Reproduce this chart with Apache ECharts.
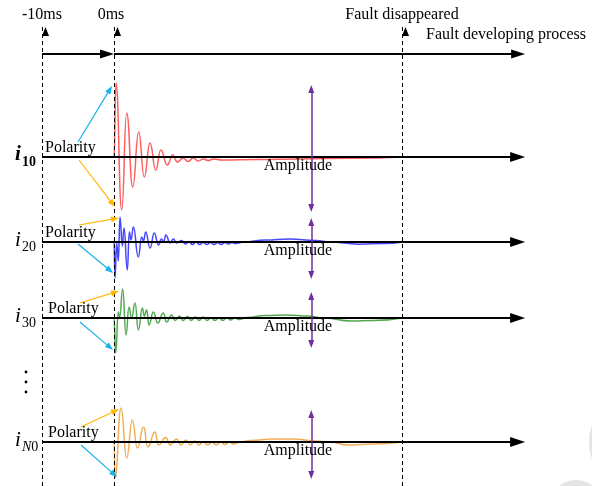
<!DOCTYPE html>
<html>
<head>
<meta charset="utf-8">
<script src="https://cdn.jsdelivr.net/npm/echarts/dist/echarts.min.js"></script>
<style>
  html, body { margin: 0; padding: 0; background: #fff; }
  #chart { width: 592px; height: 486px; }
</style>
</head>
<body>
<div id="chart"></div>
<script>
// time marks on top (ms)
var markTimes = [-10, 0, 40];
var markLabels = ['-10ms', '0ms', 'Fault disappeared'];
var axisStart = -10;
var axisEnd = 57.1;
var ampTime = 27.4;

// waveforms: [ms, amplitude]
var i10 = [[-9.5,0],[0,0],[0.28,7.4],[1.07,-5.3],[1.76,4.4],[2.6,-3.0],[3.43,2.5],[4.2,-2.0],[5.0,1.4],[5.8,-1.3],[6.5,0.7],[7.4,-0.8],[8.15,0.2],[8.8,-0.5],[9.6,-0.1],[10.3,-0.45],[11.0,-0.1],[11.7,-0.4],[12.4,-0.2],[13.1,-0.35],[13.8,-0.2],[15,-0.3],[20,-0.25],[26,-0.2],[33,-0.12],[40,0]];
var i20 = [[-9.5,0],[0,0],[0.14,-3.6],[0.37,-0.1],[0.6,-1.9],[0.83,2.5],[1.16,-0.4],[1.39,1.4],[1.85,-2.8],[2.13,1.0],[2.36,0.2],[2.69,1.5],[3.38,-1.5],[3.84,0.5],[4.1,0.1],[4.4,1.0],[5.0,-0.6],[5.6,0.9],[6.16,-0.3],[6.6,0.3],[6.9,0.0],[7.2,0.7],[7.8,-0.1],[8.24,0.3],[8.7,-0.1],[9.4,0.15],[9.9,-0.2],[10.4,0.05],[10.9,-0.25],[11.4,0],[11.9,-0.25],[12.4,-0.05],[12.9,-0.25],[13.4,-0.05],[13.9,-0.25],[14.4,-0.05],[14.9,-0.25],[15.4,-0.05],[15.9,-0.2],[16.4,-0.05],[16.9,-0.15],[18,0],[21,0.2],[24.4,0.3],[28,0.15],[30,0],[34,-0.22],[37.5,-0.15],[40,0]];
var i30 = [[-9.5,0],[0,0],[0.23,-3.5],[0.6,0.6],[0.8,0.1],[1.2,2.9],[1.67,-1.7],[2.08,1.1],[2.45,0],[2.92,1.5],[3.38,-1.2],[3.94,1.0],[4.2,0.2],[4.54,0.8],[4.86,-0.7],[5.46,0.6],[6.06,-0.5],[6.85,0.5],[7.3,-0.4],[8.0,0.3],[8.47,-0.25],[9.1,0.2],[9.6,-0.25],[10.2,0.15],[10.7,-0.25],[11.3,0.1],[11.8,-0.25],[12.4,0.1],[12.9,-0.25],[13.5,0.05],[14.0,-0.25],[14.6,0.05],[15.1,-0.25],[15.7,0.05],[16.2,-0.2],[16.8,0.05],[17.3,-0.15],[18.5,0.05],[21,0.25],[24,0.3],[27,0.2],[29,0],[33,-0.3],[36,-0.25],[40,0]];
var iN0 = [[-9.5,0],[0,0],[0.14,-3.6],[0.97,3.4],[1.76,-1.6],[2.55,2.2],[3.24,-0.6],[4.12,1.5],[4.68,-0.5],[5.7,1.0],[6.16,-0.3],[7.2,0.45],[7.8,-0.3],[8.7,0.3],[9.3,-0.3],[10.0,0.2],[10.6,-0.3],[11.2,0.1],[11.8,-0.3],[12.4,0.05],[13.0,-0.3],[13.6,0],[14.2,-0.3],[14.8,0],[15.4,-0.25],[16.0,0],[16.6,-0.2],[17.5,0],[19,0.15],[22,0.3],[25,0.3],[28,0.1],[30,0],[32.5,-0.3],[36,-0.2],[40,0]];

var waves = [i10, i20, i30, iN0];
var waveNames = ['10', '20', '30', 'N0'];
var waveColors = ['#ff4d4d', '#3333ff', '#3f9f3f', '#eea545'];

// polarity arrows (from, tip) and amplitude spans per channel
var polUp = [[[-5.0,1.5],[-0.28,7.1]], [[-4.86,1.7],[0.69,2.4]], [[-4.72,1.5],[0.69,2.7]], [[-4.58,1.5],[0.69,3.3]]];
var polDown = [[[-4.86,-0.3],[0.14,-5.0]], [[-5.0,-0.2],[-0.14,-3.1]], [[-4.72,-0.4],[-0.14,-3.2]], [[-4.58,-0.3],[0.42,-3.5]]];
var polUpColor = ['#1ab0ec', '#ffb800', '#ffb800', '#ffb800'];
var polDownColor = ['#ffb800', '#1ab0ec', '#1ab0ec', '#1ab0ec'];
var ampTop = [7.2, 2.4, 2.6, 3.2];
var ampBottom = [-5.5, -3.7, -3.0, -3.7];

// layout
var W = 592, X0 = 114, PX_MS = 7.2, PX_UNIT = 10;
var laneBase = [54, 157, 242, 318, 442];
var laneHalf = [4, 8, 8, 6, 4];
var xMin = -X0 / PX_MS, xMax = (W - X0) / PX_MS;
var FONT = '"Liberation Serif", "Times New Roman", serif';

var grids = [], xAxes = [], yAxes = [];
laneBase.forEach(function (b, i) {
  grids.push({ left: 0, right: 0, top: b - laneHalf[i] * PX_UNIT, height: 2 * laneHalf[i] * PX_UNIT });
  xAxes.push({ type: 'value', gridIndex: i, min: xMin, max: xMax, show: false });
  yAxes.push({ type: 'value', gridIndex: i, min: -laneHalf[i], max: laneHalf[i], show: false });
});
// frame grid for the dashed time marks
grids.push({ left: 0, right: 0, top: 27, bottom: 0 });
xAxes.push({ type: 'value', gridIndex: 5, min: xMin, max: xMax, show: false });
yAxes.push({ type: 'value', gridIndex: 5, min: 0, max: 1, show: false });

// the head is centred on the line end, so stop the line half a head short of the tip
function backOff(p, q, px) {
  var dx = (q[0] - p[0]) * PX_MS, dy = (q[1] - p[1]) * PX_UNIT;
  var f = px / Math.sqrt(dx * dx + dy * dy);
  return [q[0] - (q[0] - p[0]) * f, q[1] - (q[1] - p[1]) * f];
}

function arrows(lane, lines, color, width, sym, size, z) {
  return {
    type: 'line', xAxisIndex: lane, yAxisIndex: lane, data: [], z: z, silent: true,
    markLine: {
      silent: true, animation: false, symbol: sym, symbolSize: size,
      label: { show: false }, emphasis: { disabled: true },
      lineStyle: { color: color, width: width, type: 'solid' },
      data: lines.map(function (l) {
        var a = l[0], b = l[1];
        if (sym[1] !== 'none') b = backOff(l[0], l[1], size[1] / 2);
        if (sym[0] !== 'none') a = backOff(l[1], l[0], size[1] / 2);
        return [{ coord: a }, { coord: b }];
      })
    }
  };
}

var series = [];
series.push({
  type: 'line', xAxisIndex: 5, yAxisIndex: 5, data: [], z: 1, silent: true,
  markLine: {
    silent: true, animation: false, symbol: ['none', 'triangle'], symbolSize: [7, 9], symbolOffset: [0, '50%'],
    lineStyle: { color: '#000', width: 1, type: [4, 3] },
    emphasis: { disabled: true },
    label: { show: true, position: 'end', formatter: '{b}', color: '#000', fontFamily: FONT, fontSize: 16, distance: 4 },
    data: markTimes.map(function (t, i) {
      return { xAxis: t, name: markLabels[i], label: { offset: [i === 1 ? -3 : 0, 0] } };
    })
  }
});
series.push(arrows(0, [[[axisStart, 0], [0, 0]], [[0, 0], [axisEnd, 0]]], '#000', 2, ['none', 'triangle'], [9, 14], 5));

waves.forEach(function (w, k) {
  var lane = k + 1;
  series.push({
    type: 'line', xAxisIndex: lane, yAxisIndex: lane, data: w, z: 3,
    smooth: 0.5, smoothMonotone: 'x', showSymbol: false, silent: true, animation: false,
    lineStyle: { color: waveColors[k], width: 1.5, opacity: 0.9 }
  });
  series.push(arrows(lane, [[[axisStart, 0], [axisEnd, 0]]], '#000', 2, ['none', 'triangle'], [10, 15], 5));
  series.push(arrows(lane, [polUp[k]], polUpColor[k], 1.2, ['none', 'triangle'], [6, 8], 6));
  series.push(arrows(lane, [polDown[k]], polDownColor[k], 1.2, ['none', 'triangle'], [6, 8], 6));
  series.push(arrows(lane, [[[ampTime, ampTop[k]], [ampTime, ampBottom[k]]]], '#7030a0', 1.5, ['triangle', 'triangle'], [6, 8], 6));
});

// texts
var graphic = [
  { type: 'circle', shape: { cx: 641, cy: 442, r: 52 }, style: { fill: '#e4e4e4' }, z: 0 },
  { type: 'circle', shape: { cx: 576, cy: 507, r: 27 }, style: { fill: '#e4e4e4' }, z: 0 },
  { type: 'text', x: 426, y: 35, style: { text: 'Fault developing process', font: '16px ' + FONT, fill: '#000', verticalAlign: 'middle' }, z: 10 }
];
var polX = [45, 45, 48, 48];
laneBase.slice(1).forEach(function (b, k) {
  graphic.push({ type: 'text', x: polX[k], y: b - 9, style: { text: 'Polarity', font: '16px ' + FONT, fill: '#000', verticalAlign: 'middle' }, z: 10 });
  graphic.push({ type: 'text', x: 298, y: b + 9, style: { text: 'Amplitude', font: '16px ' + FONT, fill: '#000', align: 'center', verticalAlign: 'middle' }, z: 10 });
  var bold = k === 0 ? 'bold ' : '';
  graphic.push({ type: 'text', x: 15, y: b - 2, style: { text: 'i', font: 'italic ' + bold + '21px ' + FONT, fill: '#000', verticalAlign: 'middle' }, z: 10 });
  var sub = waveNames[k] === 'N0' ? '{n|N}0' : waveNames[k];
  graphic.push({ type: 'text', x: 22, y: b + 5, style: {
    text: sub, font: bold + '14px ' + FONT, fill: '#000', verticalAlign: 'middle',
    rich: { n: { fontStyle: 'italic', fontSize: 14, fontFamily: FONT } }
  }, z: 10 });
});
[372, 382, 392].forEach(function (y) {
  graphic.push({ type: 'circle', shape: { cx: 26, cy: y, r: 1.4 }, style: { fill: '#000' }, z: 10 });
});

var chart = echarts.init(document.getElementById('chart'));
chart.setOption({
  animation: false,
  backgroundColor: '#fff',
  grid: grids,
  xAxis: xAxes,
  yAxis: yAxes,
  series: series,
  graphic: graphic
});
</script>
</body>
</html>
